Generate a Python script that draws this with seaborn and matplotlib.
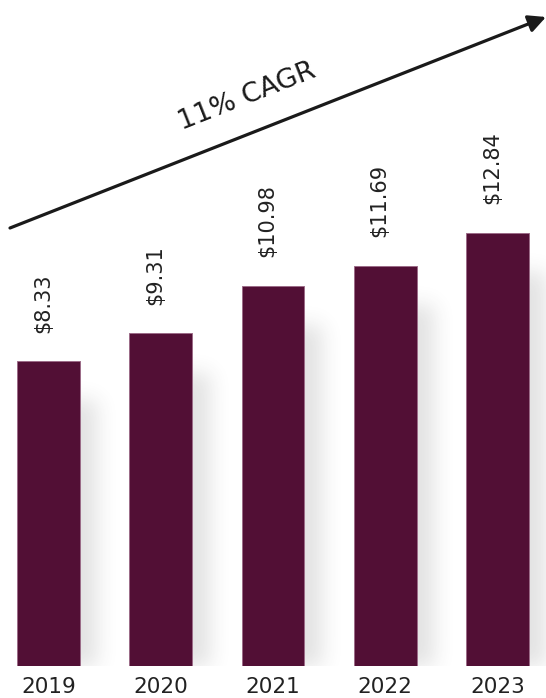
import numpy as np
import matplotlib
matplotlib.use("Agg")
import matplotlib.pyplot as plt
import seaborn as sns

# data
years = ["2019", "2020", "2021", "2022", "2023"]
values = [8.33, 9.31, 10.98, 11.69, 12.84]
value_labels = ["$8.33", "$9.31", "$10.98", "$11.69", "$12.84"]
cagr_label = "11% CAGR"

BAR = "#520F35"
EDGE = "#9c6c88"
TXT = "#222222"
BASE = -2.41   # bars are not zero based in the original
TOP = 21.04

sns.set_theme(style="white")
plt.rcParams["font.family"] = ["DejaVu Sans"]

fig = plt.figure(figsize=(5.46, 6.98), dpi=100)
ax = fig.add_axes([0, 32 / 698, 1, 666 / 698])

sns.barplot(x=years, y=values, color=BAR, width=0.56, saturation=1,
            edgecolor=EDGE, linewidth=0.7, ax=ax, zorder=3)

# start the bars at the baseline used by the original graphic
for p in ax.patches:
    h = p.get_height()
    p.set_y(BASE)
    p.set_height(h - BASE)

xlim = (-0.432, 4.432)
ax.set_xlim(*xlim)
ax.set_ylim(BASE, TOP)

# soft drop shadow: blurred, shifted copy of the bars
W, H = 546, 666
mask = np.zeros((H, W))
xs_per_px = (xlim[1] - xlim[0]) / W
ys_per_px = (TOP - BASE) / H
for p in ax.patches:
    x0 = int((p.get_x() - xlim[0]) / xs_per_px) + 18
    x1 = int((p.get_x() + p.get_width() - xlim[0]) / xs_per_px) + 18
    ytop = int((TOP - (p.get_y() + p.get_height())) / ys_per_px) + 40
    mask[ytop:, x0:x1] = 1.0
sig = 10
k = np.exp(-0.5 * (np.arange(-3 * sig, 3 * sig + 1) / sig) ** 2)
k /= k.sum()
mask = np.apply_along_axis(lambda r: np.convolve(r, k, mode="same"), 1, mask)
mask = np.apply_along_axis(lambda c: np.convolve(c, k, mode="same"), 0, mask)
img = np.zeros((H, W, 4))
img[..., :3] = 0.25
img[..., 3] = 0.15 * mask
ax.imshow(img, extent=[xlim[0], xlim[1], BASE, TOP], aspect="auto",
          zorder=1, interpolation="bilinear")
ax.set_xlim(*xlim)
ax.set_ylim(BASE, TOP)

for i, (v, lab) in enumerate(zip(values, value_labels)):
    ax.text(i - 0.05, v + 1.0, lab, rotation=90, ha="center", va="bottom",
            fontsize=15, color=TXT, zorder=4)

ax.set_xticks(range(len(years)))
ax.set_xticklabels(years)
ax.tick_params(axis="x", length=0, pad=8, labelsize=15.5, labelcolor=TXT)
ax.set_yticks([])
ax.set_xlabel("")
ax.set_ylabel("")
sns.despine(ax=ax, left=True, bottom=True)

# growth arrow
ax.annotate("", xy=(546, 681), xytext=(10, 470), xycoords="figure pixels",
            textcoords="figure pixels",
            arrowprops=dict(arrowstyle="-|>", lw=2.3, color="#1a1a1a",
                            mutation_scale=26, shrinkA=0, shrinkB=0),
            annotation_clip=False, zorder=5)
fig.text(247, 698 - 97, cagr_label, transform=None, rotation=21.6,
         rotation_mode="anchor", ha="center", va="center",
         fontsize=19.5, color="#1a1a1a")

fig.savefig("out.png", dpi=100, facecolor="white")
